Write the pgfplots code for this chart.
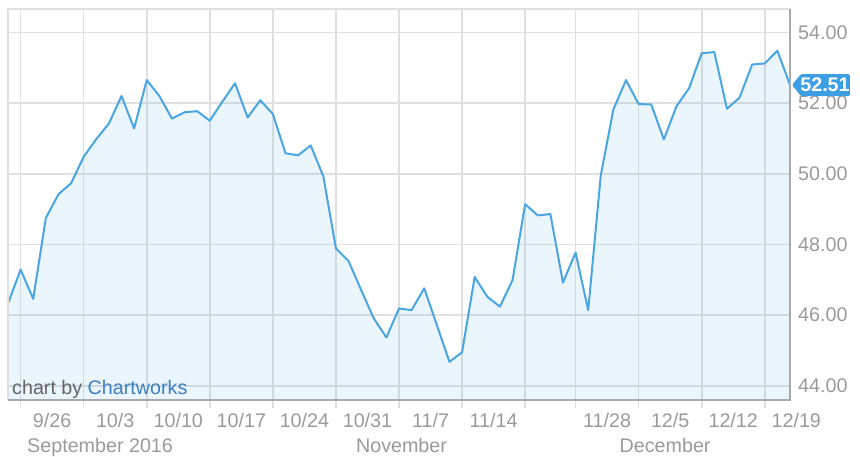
\documentclass[border=0pt]{standalone}
\usepackage{pgfplots}
\pgfplotsset{compat=1.18}
\usepackage{pgfplotstable}
\usepackage{fontspec}
\setmainfont{Liberation Sans}
\definecolor{lineblue}{HTML}{4AA6E2}
\definecolor{gridc}{HTML}{E0E0E0}
\definecolor{bordc}{HTML}{AAAAAA}
\definecolor{labgray}{HTML}{9A9A9A}
\definecolor{tagblue}{HTML}{3C9FE3}
\definecolor{cwblue}{HTML}{3D80C2}
\definecolor{cwgray}{HTML}{666666}
\newcommand{\lf}{\fontsize{19.7}{23}\selectfont}
\pgfplotstableread{
i v
0 46.33
1 47.29
2 46.46
3 48.75
4 49.42
5 49.73
6 50.48
7 50.98
8 51.42
9 52.20
10 51.28
11 52.65
12 52.20
13 51.56
14 51.74
15 51.77
16 51.50
17 52.04
18 52.56
19 51.59
20 52.08
21 51.69
22 50.58
23 50.52
24 50.80
25 49.93
26 47.89
27 47.53
28 46.71
29 45.91
30 45.37
31 46.19
32 46.14
33 46.76
34 45.72
35 44.68
36 44.95
37 47.08
38 46.52
39 46.24
40 46.99
41 49.14
42 48.82
43 48.86
44 46.92
45 47.77
46 46.14
47 49.96
48 51.82
49 52.65
50 51.97
51 51.96
52 50.97
53 51.91
54 52.42
55 53.41
56 53.44
57 51.84
58 52.15
59 53.09
60 53.12
61 53.48
62 52.51
}\data
\begin{document}
\begin{tikzpicture}
\useasboundingbox (-8pt,-57pt) rectangle (852pt,400pt);
\begin{axis}[
  name=ax, at={(0pt,0pt)}, anchor=south west,
  scale only axis, width=782pt, height=391pt,
  xmin=0, xmax=62, ymin=43.6, ymax=54.66,
  clip mode=individual,
  axis line style={draw=none},
  xtick={3.5,8.5,13.5,18.5,23.5,28.5,33.5,38.5,47.5,52.5,57.5},
  xticklabels={9/26,10/3,10/10,10/17,10/24,10/31,11/7,11/14,11/28,12/5,12/12},
  minor xtick={1,6,11,16,21,26,31,36,41,45,50,55,60},
  xminorgrids=true,
  xtick pos=bottom, tick align=outside,
  major tick length=0pt, minor tick length=8pt,
  minor tick style={draw=gridc, line width=1.6pt},
  ytick={44,46,48,50,52,54},
  yticklabels={44.00,46.00,48.00,50.00,52.00,54.00},
  ymajorgrids=true,
  ytick pos=right, yticklabel pos=right,
  ytick style={draw=none},
  major grid style={draw=gridc, line width=1.6pt},
  minor grid style={draw=gridc, line width=1.6pt},
  tick label style={font=\lf, text=labgray, inner sep=0pt},
  xticklabel style={anchor=base, yshift=-28pt},
  yticklabel style={anchor=west, xshift=8pt},
]
\addplot[draw=none, fill=lineblue, fill opacity=0.11] table[x=i,y=v] {\data} \closedcycle;
\addplot[lineblue, line width=2pt, line join=round] table[x=i,y=v] {\data};
% borders
\draw[gridc, line width=1.6pt] (rel axis cs:0,0) -- (rel axis cs:0,1) -- (rel axis cs:1,1);
\draw[bordc, line width=1.2pt] (rel axis cs:0,0) -- (rel axis cs:1,0) -- (rel axis cs:1,1);
% last week tick label (beyond the data range)
\node[anchor=base, inner sep=0pt, text=labgray, font=\lf] at ([yshift=-28pt]axis cs:62.5,43.6) {12/19};
% month labels
\node[anchor=base, inner sep=0pt, text=labgray, font=\lf] at ([yshift=-53pt]axis cs:7.3,43.6) {September 2016};
\node[anchor=base, inner sep=0pt, text=labgray, font=\lf] at ([yshift=-53pt]axis cs:31.2,43.6) {November};
\node[anchor=base, inner sep=0pt, text=labgray, font=\lf] at ([yshift=-53pt]axis cs:52.1,43.6) {December};
% credit
\node[anchor=base west, inner sep=0pt, font=\lf] at ([xshift=4pt,yshift=5pt]axis cs:0,43.6) {\textcolor{cwgray}{chart by} \textcolor{cwblue}{Chartworks}};
% last value tag
\fill[tagblue, rounded corners=1.5pt] ([xshift=2pt]axis cs:62,52.51) -- ++(9pt,11pt) -- ++(49pt,0pt) -- ++(0pt,-22pt) -- ++(-49pt,0pt) -- cycle;
\node[anchor=center, inner sep=0pt, text=white, font=\lf\bfseries] at ([xshift=35pt]axis cs:62,52.51) {52.51};
\end{axis}
\end{tikzpicture}
\end{document}
